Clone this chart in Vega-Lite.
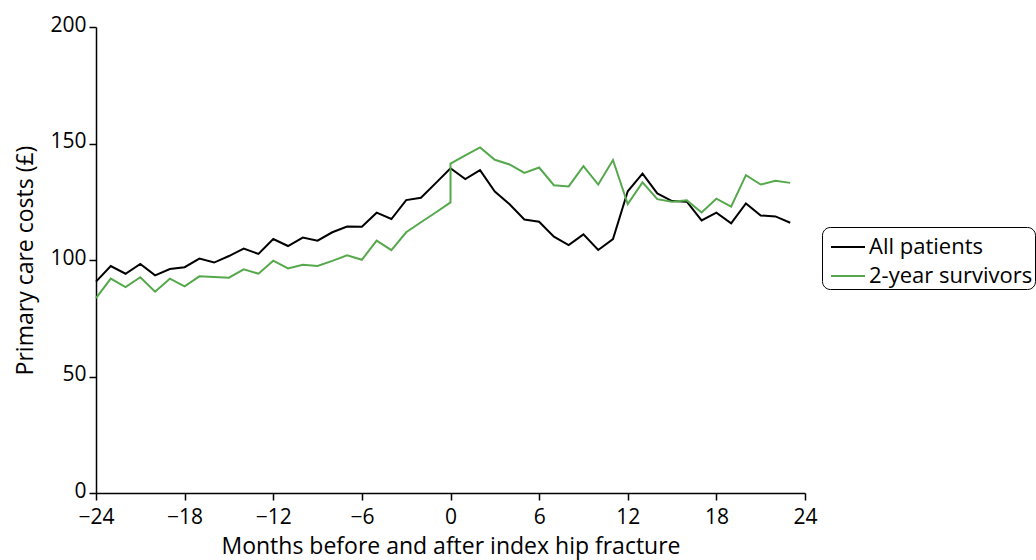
{
  "$schema": "https://vega.github.io/schema/vega-lite/v6.json",
  "autosize": "none",
  "width": 709,
  "height": 466,
  "padding": {"left": 96, "top": 27, "right": 231, "bottom": 67},
  "background": "white",
  "config": {
    "font": "Open Sans",
    "view": {"stroke": null},
    "axis": {"grid": false, "domainColor": "black", "tickColor": "black", "labelColor": "black", "titleColor": "black", "labelFontSize": 21, "titleFontSize": 23, "titleFontWeight": "normal", "domainWidth": 1.5, "tickWidth": 1.5, "tickSize": 7, "labelFlush": false}
  },
  "data": {
    "values": [
      {"i": 0, "series": "All patients", "month": -24, "cost": 90.7},
      {"i": 1, "series": "All patients", "month": -23, "cost": 97.4},
      {"i": 2, "series": "All patients", "month": -22, "cost": 94.1},
      {"i": 3, "series": "All patients", "month": -21, "cost": 98.3},
      {"i": 4, "series": "All patients", "month": -20, "cost": 93.4},
      {"i": 5, "series": "All patients", "month": -19, "cost": 96.1},
      {"i": 6, "series": "All patients", "month": -18, "cost": 96.9},
      {"i": 7, "series": "All patients", "month": -17, "cost": 100.6},
      {"i": 8, "series": "All patients", "month": -16, "cost": 98.9},
      {"i": 9, "series": "All patients", "month": -15, "cost": 101.7},
      {"i": 10, "series": "All patients", "month": -14, "cost": 104.9},
      {"i": 11, "series": "All patients", "month": -13, "cost": 102.6},
      {"i": 12, "series": "All patients", "month": -12, "cost": 109.0},
      {"i": 13, "series": "All patients", "month": -11, "cost": 106.0},
      {"i": 14, "series": "All patients", "month": -10, "cost": 109.6},
      {"i": 15, "series": "All patients", "month": -9, "cost": 108.3},
      {"i": 16, "series": "All patients", "month": -8, "cost": 111.9},
      {"i": 17, "series": "All patients", "month": -7, "cost": 114.4},
      {"i": 18, "series": "All patients", "month": -6, "cost": 114.3},
      {"i": 19, "series": "All patients", "month": -5, "cost": 120.3},
      {"i": 20, "series": "All patients", "month": -4, "cost": 117.6},
      {"i": 21, "series": "All patients", "month": -3, "cost": 125.7},
      {"i": 22, "series": "All patients", "month": -2, "cost": 126.7},
      {"i": 23, "series": "All patients", "month": -1, "cost": 133.0},
      {"i": 24, "series": "All patients", "month": 0, "cost": 139.4},
      {"i": 25, "series": "All patients", "month": 1, "cost": 134.7},
      {"i": 26, "series": "All patients", "month": 2, "cost": 138.6},
      {"i": 27, "series": "All patients", "month": 3, "cost": 129.4},
      {"i": 28, "series": "All patients", "month": 4, "cost": 123.9},
      {"i": 29, "series": "All patients", "month": 5, "cost": 117.4},
      {"i": 30, "series": "All patients", "month": 6, "cost": 116.4},
      {"i": 31, "series": "All patients", "month": 7, "cost": 110.0},
      {"i": 32, "series": "All patients", "month": 8, "cost": 106.4},
      {"i": 33, "series": "All patients", "month": 9, "cost": 111.0},
      {"i": 34, "series": "All patients", "month": 10, "cost": 104.3},
      {"i": 35, "series": "All patients", "month": 11, "cost": 109.0},
      {"i": 36, "series": "All patients", "month": 12, "cost": 129.5},
      {"i": 37, "series": "All patients", "month": 13, "cost": 137.1},
      {"i": 38, "series": "All patients", "month": 14, "cost": 128.6},
      {"i": 39, "series": "All patients", "month": 15, "cost": 125.3},
      {"i": 40, "series": "All patients", "month": 16, "cost": 125.0},
      {"i": 41, "series": "All patients", "month": 17, "cost": 117.0},
      {"i": 42, "series": "All patients", "month": 18, "cost": 120.3},
      {"i": 43, "series": "All patients", "month": 19, "cost": 115.7},
      {"i": 44, "series": "All patients", "month": 20, "cost": 124.3},
      {"i": 45, "series": "All patients", "month": 21, "cost": 119.1},
      {"i": 46, "series": "All patients", "month": 22, "cost": 118.7},
      {"i": 47, "series": "All patients", "month": 23, "cost": 116.0},
      {"i": 100, "series": "2-year survivors", "month": -24, "cost": 83.6},
      {"i": 101, "series": "2-year survivors", "month": -23, "cost": 92.0},
      {"i": 102, "series": "2-year survivors", "month": -22, "cost": 88.4},
      {"i": 103, "series": "2-year survivors", "month": -21, "cost": 92.6},
      {"i": 104, "series": "2-year survivors", "month": -20, "cost": 86.4},
      {"i": 105, "series": "2-year survivors", "month": -19, "cost": 92.0},
      {"i": 106, "series": "2-year survivors", "month": -18, "cost": 88.7},
      {"i": 107, "series": "2-year survivors", "month": -17, "cost": 93.0},
      {"i": 108, "series": "2-year survivors", "month": -16, "cost": 92.7},
      {"i": 109, "series": "2-year survivors", "month": -15, "cost": 92.4},
      {"i": 110, "series": "2-year survivors", "month": -14, "cost": 96.0},
      {"i": 111, "series": "2-year survivors", "month": -13, "cost": 94.1},
      {"i": 112, "series": "2-year survivors", "month": -12, "cost": 99.7},
      {"i": 113, "series": "2-year survivors", "month": -11, "cost": 96.4},
      {"i": 114, "series": "2-year survivors", "month": -10, "cost": 98.0},
      {"i": 115, "series": "2-year survivors", "month": -9, "cost": 97.4},
      {"i": 116, "series": "2-year survivors", "month": -8, "cost": 99.6},
      {"i": 117, "series": "2-year survivors", "month": -7, "cost": 102.0},
      {"i": 118, "series": "2-year survivors", "month": -6, "cost": 100.1},
      {"i": 119, "series": "2-year survivors", "month": -5, "cost": 108.3},
      {"i": 120, "series": "2-year survivors", "month": -4, "cost": 104.2},
      {"i": 121, "series": "2-year survivors", "month": -3, "cost": 111.9},
      {"i": 122, "series": "2-year survivors", "month": -2, "cost": 116.2},
      {"i": 123, "series": "2-year survivors", "month": -1, "cost": 120.4},
      {"i": 124, "series": "2-year survivors", "month": 0, "cost": 124.7},
      {"i": 125, "series": "2-year survivors", "month": 0, "cost": 141.4},
      {"i": 126, "series": "2-year survivors", "month": 1, "cost": 144.9},
      {"i": 127, "series": "2-year survivors", "month": 2, "cost": 148.3},
      {"i": 128, "series": "2-year survivors", "month": 3, "cost": 143.0},
      {"i": 129, "series": "2-year survivors", "month": 4, "cost": 141.0},
      {"i": 130, "series": "2-year survivors", "month": 5, "cost": 137.4},
      {"i": 131, "series": "2-year survivors", "month": 6, "cost": 139.7},
      {"i": 132, "series": "2-year survivors", "month": 7, "cost": 132.1},
      {"i": 133, "series": "2-year survivors", "month": 8, "cost": 131.6},
      {"i": 134, "series": "2-year survivors", "month": 9, "cost": 140.3},
      {"i": 135, "series": "2-year survivors", "month": 10, "cost": 132.4},
      {"i": 136, "series": "2-year survivors", "month": 11, "cost": 142.9},
      {"i": 137, "series": "2-year survivors", "month": 12, "cost": 124.0},
      {"i": 138, "series": "2-year survivors", "month": 13, "cost": 133.3},
      {"i": 139, "series": "2-year survivors", "month": 14, "cost": 126.1},
      {"i": 140, "series": "2-year survivors", "month": 15, "cost": 125.0},
      {"i": 141, "series": "2-year survivors", "month": 16, "cost": 125.6},
      {"i": 142, "series": "2-year survivors", "month": 17, "cost": 120.4},
      {"i": 143, "series": "2-year survivors", "month": 18, "cost": 126.3},
      {"i": 144, "series": "2-year survivors", "month": 19, "cost": 122.9},
      {"i": 145, "series": "2-year survivors", "month": 20, "cost": 136.4},
      {"i": 146, "series": "2-year survivors", "month": 21, "cost": 132.4},
      {"i": 147, "series": "2-year survivors", "month": 22, "cost": 134.0},
      {"i": 148, "series": "2-year survivors", "month": 23, "cost": 133.1}
    ]
  },
  "mark": {"type": "line", "strokeWidth": 2},
  "encoding": {
    "x": {
      "field": "month", "type": "quantitative",
      "scale": {"domain": [-24, 24], "nice": false},
      "axis": {"values": [-24, -18, -12, -6, 0, 6, 12, 18, 24], "title": "Months before and after index hip fracture", "titlePadding": 8, "labelPadding": 6}
    },
    "y": {
      "field": "cost", "type": "quantitative",
      "scale": {"domain": [0, 200], "nice": false},
      "axis": {"values": [0, 50, 100, 150, 200], "title": "Primary care costs (£)", "titlePadding": 12, "labelPadding": 3, "labelOffset": -2}
    },
    "color": {
      "field": "series", "type": "nominal",
      "scale": {"domain": ["All patients", "2-year survivors"], "range": ["#000000", "#55a84b"]},
      "legend": {
        "title": null,
        "orient": "none",
        "legendX": 726,
        "legendY": 200,
        "symbolType": "stroke",
        "symbolSize": 1156,
        "symbolStrokeWidth": 2,
        "labelFontSize": 22,
        "labelLimit": 400,
        "labelColor": "black",
        "labelOffset": 3,
        "rowPadding": 0,
        "padding": 2,
        "symbolOffset": 6,
        "strokeColor": "black",
        "cornerRadius": 8,
        "fillColor": "white"
      }
    },
    "order": {"field": "i", "type": "quantitative"}
  }
}
